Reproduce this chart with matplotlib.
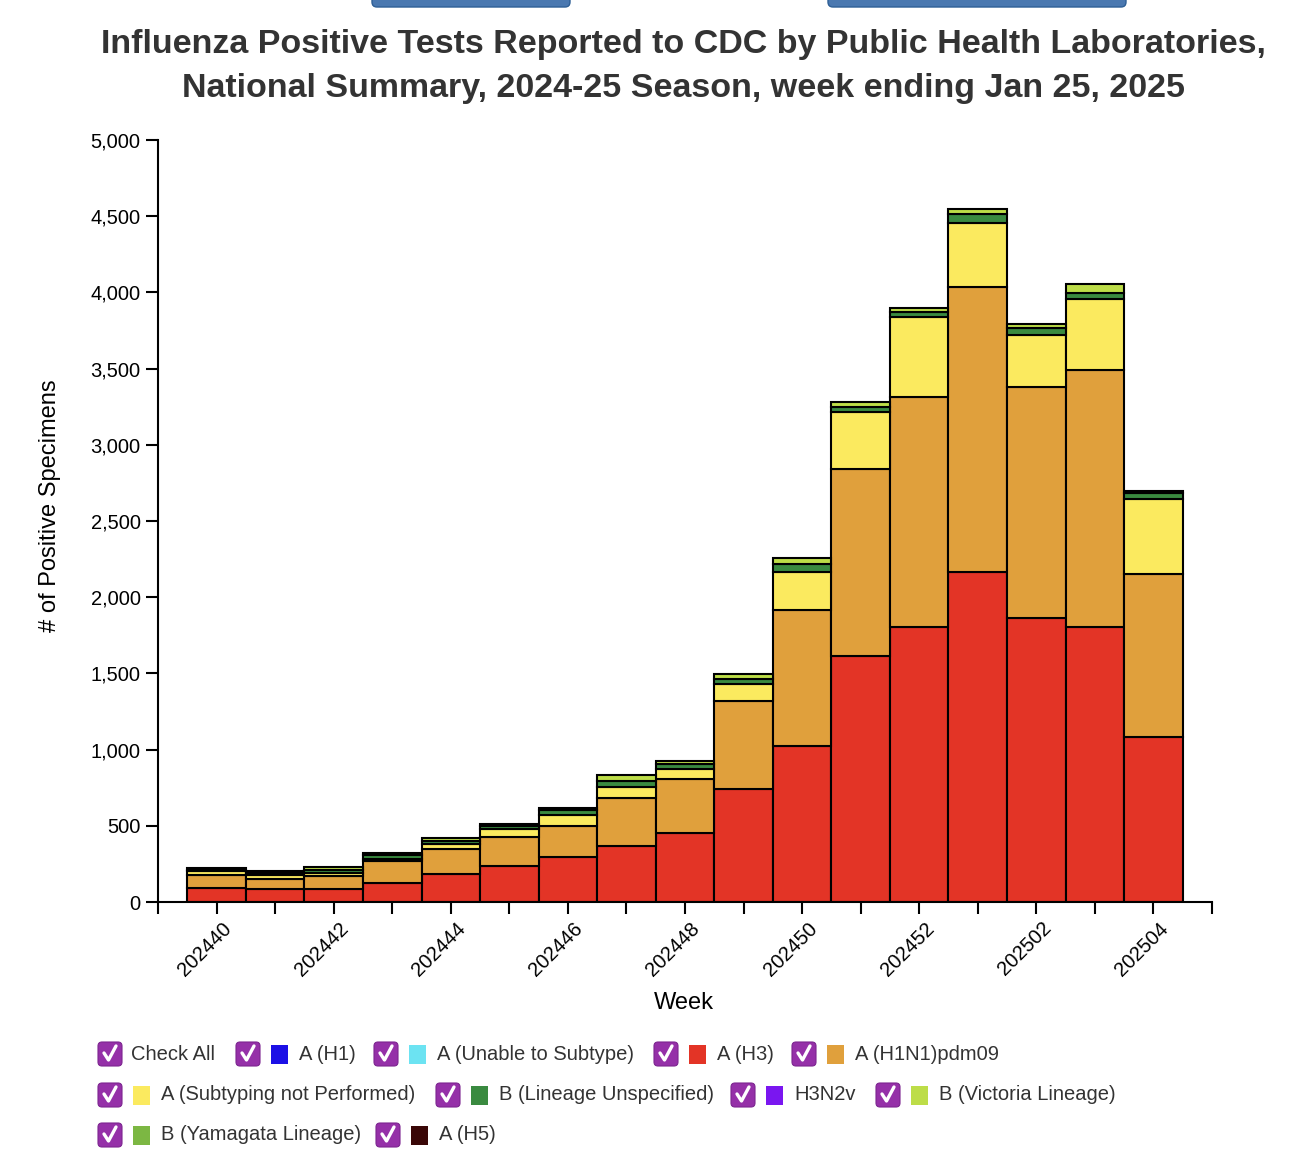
import matplotlib
matplotlib.use("Agg")
import matplotlib.pyplot as plt
from matplotlib.patches import FancyBboxPatch, Rectangle
from matplotlib.lines import Line2D
from matplotlib.transforms import IdentityTransform, ScaledTranslation
import numpy as np

plt.rcParams['font.family'] = ['Liberation Sans', 'DejaVu Sans']

# ---------------- data ----------------
weeks = ['202440', '202441', '202442', '202443', '202444', '202445', '202446',
         '202447', '202448', '202449', '202450', '202451', '202452', '202501',
         '202502', '202503', '202504']
a_h1 = [0] * 17
a_unable = [0] * 17
a_h3 = [95, 85, 83, 122, 184, 236, 297, 365, 451, 744, 1024, 1616, 1805, 2163, 1861, 1802, 1083]
a_h1n1pdm09 = [85, 68, 87, 147, 166, 193, 204, 320, 356, 575, 892, 1223, 1509, 1870, 1520, 1689, 1069]
a_not_performed = [22, 26, 18, 15, 30, 48, 72, 72, 68, 111, 251, 376, 522, 424, 339, 464, 490]
b_unspecified = [10, 14, 22, 25, 22, 20, 28, 39, 30, 31, 48, 35, 37, 57, 48, 43, 45]
h3n2v = [0] * 17
b_victoria = [8, 12, 20, 15, 16, 13, 16, 37, 22, 33, 40, 31, 27, 33, 27, 57, 8]
b_yamagata = [0] * 17
a_h5 = [0] * 17

series_names = ['A (H1)', 'A (Unable to Subtype)', 'A (H3)', 'A (H1N1)pdm09',
                'A (Subtyping not Performed)', 'B (Lineage Unspecified)', 'H3N2v',
                'B (Victoria Lineage)', 'B (Yamagata Lineage)', 'A (H5)']
series_values = [a_h1, a_unable, a_h3, a_h1n1pdm09, a_not_performed, b_unspecified,
                 h3n2v, b_victoria, b_yamagata, a_h5]
series_colors = ['#1c10e6', '#6ce3f2', '#e33426', '#e0a03c', '#fbea5f', '#3a8a40',
                 '#7a16f0', '#bddd48', '#7cb743', '#3a0707']

# ---------------- figure ----------------
W, H = 1298, 1168
fig = plt.figure(figsize=(W / 100, H / 100), dpi=100)
fig.patch.set_facecolor('white')

L, R, T, B = 158, 1212, 140, 902
ax = fig.add_axes([L / W, 1 - B / H, (R - L) / W, (B - T) / H])

xpos = np.arange(1, len(weeks) + 1)
bottom = np.zeros(len(weeks))
for vals, col in zip(series_values, series_colors):
    v = np.array(vals, dtype=float)
    if v.sum() > 0:
        ax.bar(xpos, v, width=1.0, bottom=bottom, color=col,
               edgecolor='black', linewidth=1.5, zorder=2)
    bottom += v

ax.set_xlim(0, 18)
ax.set_ylim(0, 5000)
yt = np.arange(0, 5001, 500)
ax.set_yticks(yt)
ax.set_yticklabels([f'{int(v):,}' for v in yt])
ax.set_xticks(np.arange(0, 19))
xl = [''] * 19
for i, w in enumerate(weeks):
    if i % 2 == 0:
        xl[i + 1] = w
ax.set_xticklabels(xl)

for s in ['top', 'right']:
    ax.spines[s].set_visible(False)
for s in ['left', 'bottom']:
    ax.spines[s].set_linewidth(1.5)
    ax.spines[s].set_color('black')

ax.tick_params(axis='both', direction='out', length=8.5, width=1.5, color='black',
               labelsize=14.5, labelcolor='black')
ax.tick_params(axis='y', pad=4)
ax.tick_params(axis='x', pad=4)
offset = ScaledTranslation(12 / 100, -6 / 100, fig.dpi_scale_trans)
for lab in ax.get_xticklabels():
    lab.set_rotation(45)
    lab.set_ha('right')
    lab.set_va('center')
    lab.set_rotation_mode('anchor')
    lab.set_transform(lab.get_transform() + offset)

ax.set_xlabel('Week', fontsize=17, color='black')
ax.xaxis.label.set_va('center')
ax.xaxis.set_label_coords((684 - L) / (R - L), (B - 1003) / (B - T))
ax.set_ylabel('# of Positive Specimens', fontsize=17, color='black')
ax.yaxis.label.set_va('center')
ax.yaxis.set_label_coords((50 - L) / (R - L), (B - 506) / (B - T))

# ---------------- title ----------------
fig.text(683 / W, 1 - 45 / H,
         'Influenza Positive Tests Reported to CDC by Public Health Laboratories,',
         ha='center', va='center', fontsize=24.5, fontweight='bold', color='#333333')
fig.text(684 / W, 1 - 89 / H,
         'National Summary, 2024-25 Season, week ending Jan 25, 2025',
         ha='center', va='center', fontsize=24.5, fontweight='bold', color='#333333')

ident = IdentityTransform()

# top buttons (partially visible)
for x0, x1 in [(372, 570), (828, 1126)]:
    btn = FancyBboxPatch((x0, H - 7), x1 - x0, 30,
                         boxstyle='round,pad=0,rounding_size=5',
                         facecolor='#4a78b0', edgecolor='#2e5f96', linewidth=1,
                         transform=ident)
    fig.patches.append(btn)

# ---------------- legend (checkbox style) ----------------
def checkbox(x, yc):
    box = FancyBboxPatch((x, H - yc - 12), 24, 24,
                         boxstyle='round,pad=0,rounding_size=4',
                         facecolor='#9530a8', edgecolor='#7d2590', linewidth=0.8,
                         transform=ident)
    fig.patches.append(box)
    xs = [x + 6, x + 10.5, x + 18]
    ys = [H - yc + 1, H - yc - 6, H - yc + 8]
    fig.lines.append(Line2D(xs, ys, color='white', linewidth=2.4,
                            solid_capstyle='round', solid_joinstyle='round',
                            transform=ident))

def swatch(x, yc, col):
    fig.patches.append(Rectangle((x, H - yc - 9.5), 17, 19, facecolor=col,
                                 edgecolor='none', transform=ident))

def label(x, yc, txt):
    fig.text(x, H - yc, txt, transform=ident, ha='left', va='center',
             fontsize=14.5, color='#333333')

rows = [1054, 1095, 1135]
# Check All
checkbox(98, rows[0]); label(131, rows[0], 'Check All')
legend_layout = [
    (236, rows[0]), (374, rows[0]), (654, rows[0]), (792, rows[0]),
    (98, rows[1]), (436, rows[1]), (731, rows[1]), (876, rows[1]),
    (98, rows[2]), (376, rows[2]),
]
for (x, yc), name, col in zip(legend_layout, series_names, series_colors):
    checkbox(x, yc)
    swatch(x + 35, yc, col)
    label(x + 63, yc, name)

fig.savefig('out.png', dpi=100, facecolor='white')
